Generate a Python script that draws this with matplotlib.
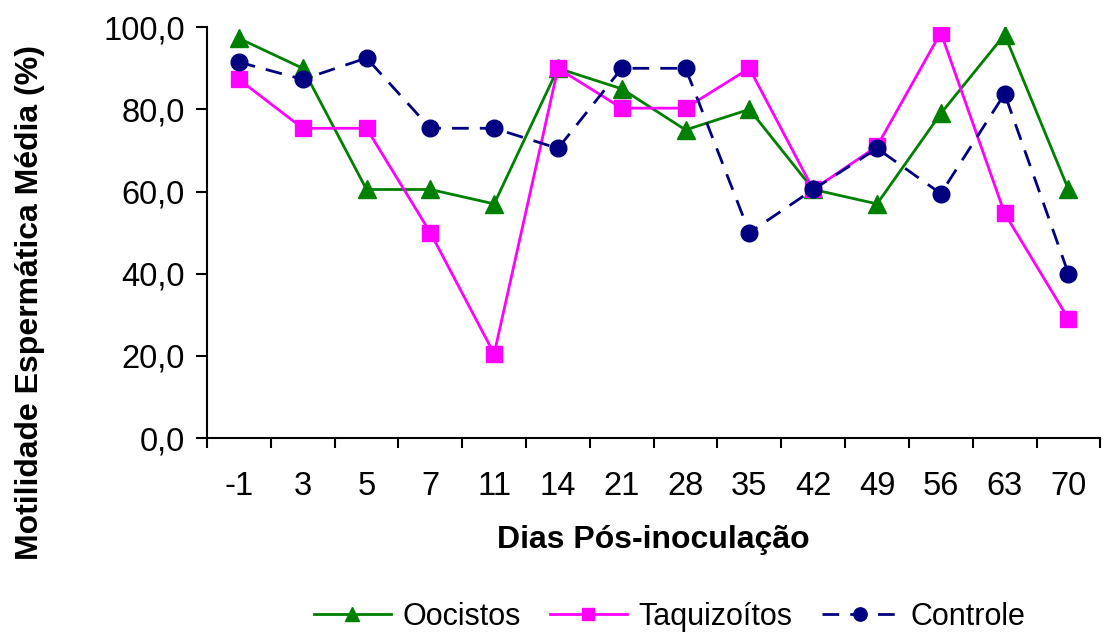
import numpy as np
import matplotlib.pyplot as plt

plt.rcParams['font.family'] = ['Liberation Sans', 'DejaVu Sans']

dias = ['-1', '3', '5', '7', '11', '14', '21', '28', '35', '42', '49', '56', '63', '70']
oocistos = [97.3, 90.0, 60.5, 60.5, 57.0, 90.0, 85.0, 75.0, 80.0, 60.5, 57.0, 79.0, 98.2, 60.5]
taquizoitos = [87.3, 75.4, 75.4, 50.0, 20.5, 90.0, 80.3, 80.3, 90.0, 60.5, 71.0, 98.7, 54.7, 29.0]
controle = [91.5, 87.3, 92.5, 75.4, 75.4, 70.5, 90.0, 90.0, 50.0, 60.5, 70.5, 59.5, 83.8, 40.0]

x = np.arange(len(dias))

fig = plt.figure(figsize=(11.07, 6.33), dpi=100)
ax = fig.add_axes([0.187, 0.308, 0.807, 0.649])

ax.plot(x, oocistos, color='#008000', lw=2, marker='^', ms=12.5, label='Oocistos')
ax.plot(x, taquizoitos, color='#ff00ff', lw=2, marker='s', ms=11.5, label='Taquizoítos')
ax.plot(x, controle, color='#000080', lw=2, ls=(0, (6, 4)), marker='o', ms=12,
        label='Controle')

ax.set_xlim(-0.5, len(dias) - 0.5)
ax.set_ylim(0, 100)
ax.set_yticks(np.arange(0, 101, 20))
ax.set_yticklabels([f'{v:.1f}'.replace('.', ',') for v in np.arange(0, 101, 20)])
ax.set_xticks(x)
ax.set_xticklabels(dias)
# ticks sit between the day categories
ax.set_xticks(np.arange(-0.5, len(dias)), minor=True)
ax.tick_params(axis='x', which='major', length=0, pad=24, labelsize=23.5)
ax.tick_params(axis='x', which='minor', length=7, width=1.5, direction='out')
ax.tick_params(axis='y', length=8, width=1.5, labelsize=23.5, pad=8)

for s in ['top', 'right']:
    ax.spines[s].set_visible(False)
for s in ['left', 'bottom']:
    ax.spines[s].set_linewidth(1.5)

ax.set_xlabel('Dias Pós-inoculação', fontsize=23, fontweight='bold')
ax.xaxis.set_label_coords(0.5, -0.212)
ax.set_ylabel('Motilidade Espermática Média (%)', fontsize=23, fontweight='bold')
ax.yaxis.set_label_coords(-0.181, 0.33)

ax.legend(loc='center', bbox_to_anchor=(0.518, -0.435), ncol=3, frameon=False,
          fontsize=22, handlelength=2.5, columnspacing=0.95, handletextpad=0.4,
          markerscale=0.8)

fig.savefig('out.png', dpi=100)
